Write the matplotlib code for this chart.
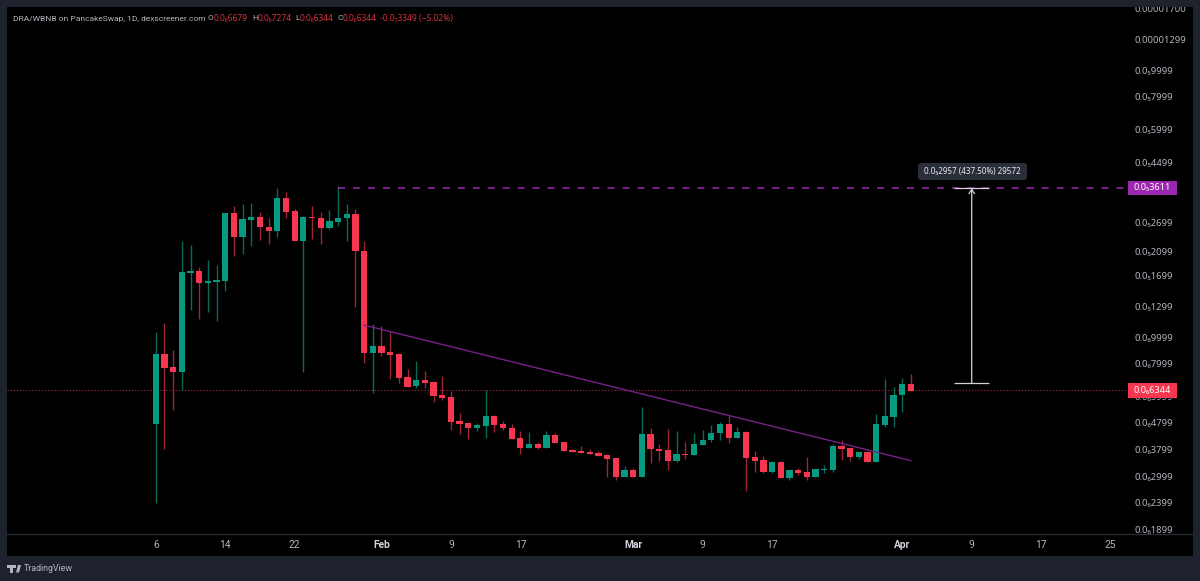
import matplotlib
matplotlib.use('Agg')
import matplotlib.pyplot as plt
import matplotlib.dates as mdates
from matplotlib.patches import Rectangle, Polygon, FancyBboxPatch
from matplotlib.transforms import IdentityTransform
from matplotlib.ticker import NullLocator
import numpy as np
import pandas as pd

plt.rcParams['font.family'] = ['Noto Sans', 'DejaVu Sans']
LATIN = ['Roboto', 'DejaVu Sans']

# Daily candles, prices in units of 1e-7
dates = pd.date_range('2024-01-06', periods=88, freq='D')
open_e7 = [4.73,8.63,7.71,7.43,17.40,17.70,15.92,16.15,16.24,29.19,23.74,27.56,28.20,25.87,25.00,33.22,29.62,22.93,28.20,27.96,25.58,27.01,
           27.88,29.03,21.10,8.70,9.27,8.80,8.63,7.08,6.55,6.92,6.78,6.06,5.97,4.84,4.79,4.58,4.66,5.07,4.73,4.58,4.19,3.85,
           3.98,3.85,4.29,4.04,3.78,3.75,3.72,3.68,3.62,3.52,3.00,3.19,3.00,4.34,3.83,3.78,3.45,3.65,3.62,3.95,4.12,4.38,
           4.75,4.19,4.42,3.55,3.47,3.12,3.41,2.97,3.17,3.12,2.99,3.19,3.19,3.91,3.85,3.56,3.71,3.41,4.69,5.04,6.06,6.70]
high_e7 = [10.43,11.27,8.93,22.93,22.15,18.32,19.47,18.64,29.19,31.01,31.46,31.82,29.45,27.96,36.11,34.99,30.30,28.45,31.01,29.45,29.96,36.85,
           31.64,30.30,22.86,11.21,11.02,10.52,8.70,7.60,8.15,7.47,6.86,7.18,6.31,5.19,4.79,4.77,6.33,5.13,4.86,4.73,4.47,4.42,
           4.05,4.44,4.39,4.06,3.81,3.91,3.81,3.75,3.64,3.53,3.29,3.23,5.49,4.56,3.98,4.52,4.47,4.05,4.39,4.49,4.69,4.80,
           5.08,4.60,4.44,3.75,3.59,3.43,3.45,3.17,3.25,3.55,3.21,3.32,3.98,4.12,3.86,3.72,3.76,5.14,7.00,6.53,7.04,7.28]
low_e7 = [2.40,3.81,5.34,6.33,12.65,11.70,12.40,11.54,14.90,20.15,20.50,21.90,23.13,22.34,23.67,27.88,22.86,7.43,23.26,22.34,25.43,26.17,
          22.93,13.02,8.03,6.16,8.51,6.98,6.76,6.53,6.44,6.45,5.70,5.82,4.49,4.34,4.16,4.45,4.19,4.42,4.48,4.16,3.66,3.85,
          3.81,3.85,4.01,3.75,3.71,3.67,3.65,3.59,3.00,2.93,3.00,3.00,3.00,3.37,3.44,3.17,3.42,3.51,3.62,3.95,4.05,4.12,
          4.02,4.19,2.66,3.13,3.10,3.09,2.96,2.93,3.04,2.93,2.99,3.11,3.14,3.47,3.44,3.50,3.41,3.41,4.61,4.61,5.23,6.31]
close_e7 = [8.63,7.67,7.43,17.50,17.70,15.92,16.29,16.38,29.19,23.74,27.64,28.20,25.80,25.00,33.22,29.45,22.93,28.20,27.96,25.65,27.25,27.96,
            29.03,21.04,8.70,9.27,8.73,8.58,7.06,6.53,6.92,6.74,6.02,5.94,4.81,4.75,4.58,4.69,5.07,4.69,4.56,4.16,3.85,3.98,
            3.85,4.29,4.02,3.76,3.72,3.68,3.66,3.60,3.50,3.00,3.19,3.00,4.34,3.80,3.75,3.45,3.64,3.62,3.97,4.13,4.39,4.75,
            4.19,4.42,3.54,3.45,3.12,3.41,2.97,3.17,3.10,2.99,3.21,3.22,3.91,3.81,3.56,3.71,3.41,4.73,5.07,6.08,6.70,6.31]

y_tick_values = [1.7e-5,1.299e-5,9.999e-6,7.999e-6,5.999e-6,4.499e-6,2.699e-6,2.099e-6,1.699e-6,1.299e-6,
                 9.999e-7,7.999e-7,5.999e-7,4.799e-7,3.799e-7,2.999e-7,2.399e-7,1.899e-7]
y_tick_labels = ['0.00001700','0.00001299','0.0₅9999','0.0₅7999','0.0₅5999','0.0₅4499','0.0₅2699','0.0₅2099','0.0₅1699','0.0₅1299',
                 '0.0₆9999','0.0₆7999','0.0₆5999','0.0₆4799','0.0₆3799','0.0₆2999','0.0₆2399','0.0₆1899']
x_tick_dates = ['2024-01-06','2024-01-14','2024-01-22','2024-02-01','2024-02-09','2024-02-17','2024-03-01',
                '2024-03-09','2024-03-17','2024-04-01','2024-04-09','2024-04-17','2024-04-25']
x_tick_labels = ['6','14','22','Feb','9','17','Mar','9','17','Apr','9','17','25']

last_price = 6.344e-7
level_price = 3.611e-6
measure_low = 6.75e-7
trend_dates = ['2024-01-30', '2024-04-02']
trend_prices = [11.1e-7, 3.45e-7]

BG = '#1e222d'; SEP = '#2a2e39'; TXT = '#b2b5be'
UP = '#089981'; DOWN = '#f7374f'; UP_W = '#0a6a5a'; DOWN_W = '#9c2635'
PURPLE = '#9c27b0'

W, H = 1200, 581
fig = plt.figure(figsize=(12, 5.81), dpi=100, facecolor=BG)
fx = lambda x: x / W
fy = lambda y: 1 - y / H

# black panel
fig.add_artist(Rectangle((fx(7), fy(556)), (1192.5 - 7) / W, (556 - 7) / H, transform=fig.transFigure,
                         fc='black', ec='none', zorder=-1))

ax = fig.add_axes([fx(7), fy(534), (1127 - 7) / W, (534 - 7) / H])
ax.patch.set_alpha(0)
for s in ax.spines.values():
    s.set_visible(False)

x = mdates.date2num(dates)
o, hi, lo, c = (np.array(a) * 1e-7 for a in (open_e7, high_e7, low_e7, close_e7))
up = c >= o

ax.set_yscale('log')
ax.vlines(x[up], lo[up], hi[up], color=UP_W, lw=1.0, zorder=2)
ax.vlines(x[~up], lo[~up], hi[~up], color=DOWN_W, lw=1.0, zorder=2)
body_lo = np.minimum(o, c); body_hi = np.maximum(o, c)
ax.bar(x[up], (body_hi - body_lo)[up], bottom=body_lo[up], width=0.72, color=UP, lw=0, zorder=3)
ax.bar(x[~up], (body_hi - body_lo)[~up], bottom=body_lo[~up], width=0.72, color=DOWN, lw=0, zorder=3)

x0 = x[0] + (7 - 155.8) / 8.68
x1 = x[0] + (1127 - 155.8) / 8.68
ax.set_xlim(x0, x1)
ax.set_ylim(last_price * 10 ** (-144 / 267), last_price * 10 ** (383 / 267))

# last price line
ax.hlines(last_price, x0, x1, color='#8f2230', lw=0.8, linestyles=(0, (1.2, 1.6)), zorder=1)
# horizontal level
ax.hlines(level_price, x[21], x1, color=PURPLE, lw=1.1, linestyles=(0, (4.6, 5.2)), zorder=4)
# trend line
ax.plot(mdates.date2num(pd.to_datetime(trend_dates)), trend_prices, color='#762088', lw=1.0, zorder=4)

# measurement tool
mx = mdates.date2num(pd.Timestamp('2024-04-09'))
cap0 = mdates.date2num(pd.Timestamp('2024-04-07'))
cap1 = mdates.date2num(pd.Timestamp('2024-04-11'))
ax.hlines([measure_low, level_price], cap0, cap1, color='#d1d4dc', lw=0.9, zorder=5)
ax.annotate('', xy=(mx, level_price), xytext=(mx, measure_low),
            arrowprops=dict(arrowstyle='->,head_length=0.3,head_width=0.2', color='#d1d4dc', lw=0.9,
                            shrinkA=0, shrinkB=0), zorder=5)

# axes ticks
ax.yaxis.tick_right()
ax.set_yticks(y_tick_values)
ax.set_yticklabels(y_tick_labels)
ax.yaxis.set_minor_locator(NullLocator())
ax.tick_params(axis='y', which='major', length=0, pad=5.5, labelsize=6.8, labelcolor=TXT)
ax.set_xticks(mdates.date2num(pd.to_datetime(x_tick_dates)))
ax.set_xticklabels(x_tick_labels, family=LATIN)
ax.tick_params(axis='x', length=0, pad=4.6, labelsize=7.4, labelcolor=TXT)
for t, lab in zip(ax.get_xticklabels(), x_tick_labels):
    if lab in ('Feb', 'Mar', 'Apr'):
        t.set_color('#d1d4dc'); t.set_fontweight('bold')

# frame over the clipped top label, time-axis separator
fig.add_artist(Rectangle((0, fy(7)), 1, 7 / H, transform=fig.transFigure, fc=BG, ec='none', zorder=2))
fig.add_artist(plt.Line2D([fx(7), fx(1192.5)], [fy(534), fy(534)], color=SEP, lw=0.9, zorder=2))

def tag(y0, y1, x0_, x1_, col, text, tc='white', weight='bold', fs=6.6, radius=0.0):
    if radius:
        fig.add_artist(FancyBboxPatch((x0_, H - y1), x1_ - x0_, y1 - y0, transform=IdentityTransform(),
                                      boxstyle=f'round,pad=0,rounding_size={radius}', fc=col, ec='none', zorder=3))
    else:
        fig.add_artist(Rectangle((fx(x0_), fy(y1)), (x1_ - x0_) / W, (y1 - y0) / H, transform=fig.transFigure,
                                 fc=col, ec='none', zorder=3))
    fig.text(fx((x0_ + x1_) / 2), fy((y0 + y1) / 2), text, color=tc, fontsize=fs, fontweight=weight,
             ha='center', va='center', zorder=4)

tag(181, 194.5, 1128, 1177, PURPLE, '0.0₅3611')
tag(383, 397.5, 1128, 1177, DOWN, '0.0₆6344')
tag(163, 180, 918, 1027, SEP, '0.0₅2957 (437.50%) 29572', tc='#e6e8ee', weight='medium', fs=5.8, radius=3)

# header
def head(px, s, col=TXT, fam=None, fs=6.1):
    fig.text(fx(px), fy(18.5), s, color=col, fontsize=fs, ha='left', va='center', zorder=4,
             family=fam if fam else ['Noto Sans', 'DejaVu Sans'])
RED = '#d8323f'
head(12.7, 'DRA/WBNB on PancakeSwap, 1D, dexscreener.com', fam=LATIN, fs=6.0)
for px, s in ((208, 'O'), (252, 'H'), (295, 'L'), (337, 'C')):
    head(px, s, fam=LATIN, fs=6.0)
for px, s in ((213.5, '0.0₆6679'), (257.5, '0.0₆7274'), (299.5, '0.0₆6344'), (342.5, '0.0₆6344'),
              (380, '-0.0₇3349 (−5.02%)')):
    head(px, s, RED)

# footer logo
LOGO = '#b2b5be'
fig.add_artist(Rectangle((fx(7), fy(568)), 5.5 / W, 3 / H, transform=fig.transFigure, fc=LOGO, ec='none', zorder=4))
fig.add_artist(Rectangle((fx(9.5), fy(572.5)), 3 / W, 4.5 / H, transform=fig.transFigure, fc=LOGO, ec='none', zorder=4))
fig.add_artist(Polygon([(fx(16), fy(572.5)), (fx(19), fy(572.5)), (fx(21), fy(565)), (fx(18), fy(565))],
                       transform=fig.transFigure, fc=LOGO, ec='none', zorder=4))
fig.add_artist(Rectangle((fx(13.2), fy(568)), 3 / W, 3 / H, transform=fig.transFigure, fc=LOGO, ec='none', zorder=4))
fig.text(fx(23.5), fy(568.5), 'TradingView', color=TXT, fontsize=6.4, ha='left', va='center', zorder=4, family=LATIN)

fig.savefig('out.png', facecolor=BG)
